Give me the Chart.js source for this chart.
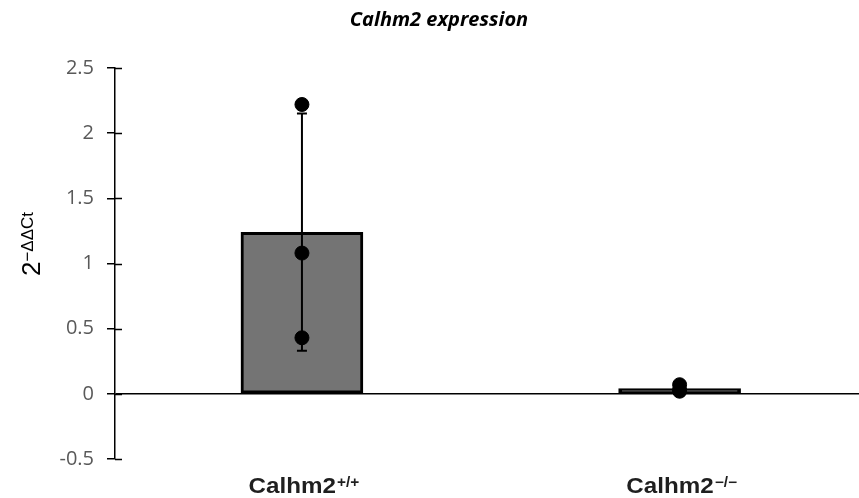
<!DOCTYPE html>
<html>
<head>
<meta charset="utf-8">
<script src="https://cdn.jsdelivr.net/npm/chart.js@4.4.1/dist/chart.umd.min.js"></script>
<style>
  html, body { margin: 0; padding: 0; background: #fff; }
  #wrap { width: 859px; height: 498px; position: relative; }
</style>
</head>
<body>
<div id="wrap"><canvas id="chart"></canvas></div>
<script>
// Calhm2 qPCR expression, 2^-ddCt per genotype
const categoryBase = ['Calhm2', 'Calhm2'];
const categorySup = ['+/+', '\u2212/\u2212'];
const meanValues = [1.24, 0.04];
const sdValues = [0.91, 0.03];
const wtPoints = [2.22, 1.08, 0.43];
const koPoints = [0.07, 0.03, 0.02];
const yTicks = [-0.5, 0, 0.5, 1, 1.5, 2, 2.5];

const chartTitle = 'Calhm2 expression';
const yTitleBase = '2';
const yTitleSup = '\u2212\u0394\u0394Ct';

// error bars after the bars, then text on top
const decorPlugin = {
  id: 'decor',
  afterDatasetDraw(chart, args) {
    if (args.index !== 0) return;
    const { ctx, scales: { x, y } } = chart;
    ctx.save();
    ctx.strokeStyle = '#000';
    ctx.lineWidth = 2;
    meanValues.forEach((m, i) => {
      const px = x.getPixelForValue(i);
      const top = y.getPixelForValue(m + sdValues[i]);
      const bot = y.getPixelForValue(m - sdValues[i]);
      ctx.beginPath();
      ctx.moveTo(px, top); ctx.lineTo(px, bot);
      ctx.moveTo(px - 5, top); ctx.lineTo(px + 5, top);
      ctx.moveTo(px - 5, bot); ctx.lineTo(px + 5, bot);
      ctx.stroke();
    });
    ctx.restore();
  },
  afterDraw(chart) {
    const { ctx, chartArea, scales: { x, y } } = chart;
    ctx.save();

    // inner half of the y tick marks
    ctx.strokeStyle = '#000';
    ctx.lineWidth = 1.5;
    ctx.beginPath();
    yTicks.forEach(v => {
      const py = Math.round(y.getPixelForValue(v)) + 0.5;
      ctx.moveTo(chartArea.left, py);
      ctx.lineTo(chartArea.left + 7, py);
    });
    ctx.stroke();

    // title
    ctx.fillStyle = '#000';
    ctx.font = 'italic bold 20px "Open Sans", sans-serif';
    ctx.textAlign = 'center';
    ctx.textBaseline = 'alphabetic';
    ctx.fillText(chartTitle, 439, 26);

    // y title with superscript
    ctx.textAlign = 'left';
    ctx.save();
    ctx.translate(40, 244);
    ctx.rotate(-Math.PI / 2);
    ctx.font = '26px "Liberation Sans", Arial, sans-serif';
    const wb = ctx.measureText(yTitleBase).width;
    ctx.font = '17px "Liberation Sans", Arial, sans-serif';
    const ws = ctx.measureText(yTitleSup).width;
    const sx = -(wb + ws) / 2;
    ctx.font = '26px "Liberation Sans", Arial, sans-serif';
    ctx.fillText(yTitleBase, sx, 0);
    ctx.font = '17px "Liberation Sans", Arial, sans-serif';
    ctx.fillText(yTitleSup, sx + wb, -7);
    ctx.restore();

    // x category labels with superscripts
    ctx.fillStyle = '#1f1f1f';
    categoryBase.forEach((base, i) => {
      const px = x.getPixelForValue(i);
      ctx.font = 'bold 22px "Liberation Sans", Arial, sans-serif';
      const b = ctx.measureText(base).width;
      ctx.font = 'bold 14px "Liberation Sans", Arial, sans-serif';
      const s = ctx.measureText(categorySup[i]).width;
      const total = (b + s + 1) * 1.1;
      ctx.save();
      ctx.translate(px - total / 2 + 2, 493);
      ctx.scale(1.1, 1);
      ctx.font = 'bold 22px "Liberation Sans", Arial, sans-serif';
      ctx.fillText(base, 0, 0);
      ctx.font = 'bold 14px "Liberation Sans", Arial, sans-serif';
      ctx.fillText(categorySup[i], b + 1, -6);
      ctx.restore();
    });

    ctx.restore();
  }
};

const dotData = [
  ...wtPoints.map(v => ({ x: 0, y: v })),
  ...koPoints.map(v => ({ x: 1, y: v }))
];

new Chart(document.getElementById('chart'), {
  type: 'bar',
  data: {
    datasets: [
      {
        type: 'bar',
        data: meanValues.map((v, i) => ({ x: i, y: v })),
        backgroundColor: ['#747474', '#000'],
        borderColor: '#000',
        borderWidth: 3,
        borderSkipped: false,
        barThickness: 122,
        order: 2
      },
      {
        type: 'scatter',
        data: dotData,
        backgroundColor: '#000',
        borderColor: '#000',
        pointRadius: 7,
        order: 1
      }
    ]
  },
  options: {
    responsive: true,
    maintainAspectRatio: false,
    animation: false,
    layout: { autoPadding: false, padding: { top: 68, bottom: 39, left: 0, right: 0 } },
    plugins: {
      legend: { display: false },
      title: { display: false },
      tooltip: { enabled: false }
    },
    scales: {
      x: {
        type: 'linear',
        offset: false,
        min: -0.495,
        max: 1.475,
        display: false
      },
      y: {
        min: -0.5,
        max: 2.5,
        afterBuildTicks: scale => { scale.ticks = yTicks.map(v => ({ value: v })); },
        afterFit: scale => { scale.width = 115; },
        ticks: {
          color: '#595959',
          padding: 13,
          font: { family: "'Open Sans', sans-serif", size: 20 },
          callback: v => String(v)
        },
        grid: {
          color: ctx => (ctx.tick && ctx.tick.value === 0 ? '#000' : 'rgba(0,0,0,0)'),
          tickColor: '#000',
          tickLength: 8,
          lineWidth: 1.5
        },
        border: { display: true, color: '#000', width: 1.5 }
      }
    }
  },
  plugins: [decorPlugin]
});
</script>
</body>
</html>
